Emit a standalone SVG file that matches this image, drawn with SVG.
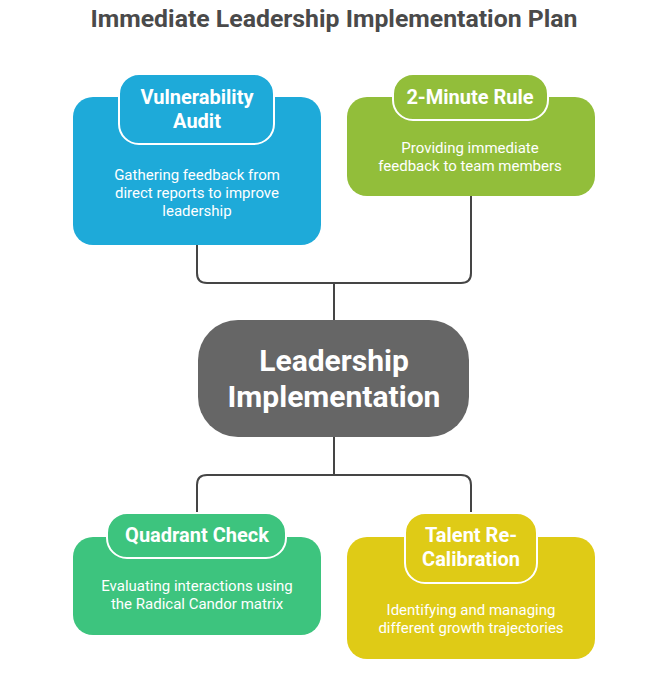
<svg xmlns="http://www.w3.org/2000/svg" width="668" height="697" viewBox="0 0 668 697">
<style>
.t{font-family:Roboto,"Liberation Sans",sans-serif;font-weight:700;fill:#ffffff;text-anchor:middle;dominant-baseline:central}
.d{font-family:Roboto,"Liberation Sans",sans-serif;font-weight:400;font-size:15px;fill:#ffffff;text-anchor:middle;dominant-baseline:central}
.pill{stroke:#ffffff;stroke-width:2}
.c{fill:none;stroke:#454545;stroke-width:2}
</style>
<rect width="668" height="697" fill="#ffffff"/>
<text x="334" y="18" font-family="Roboto,'Liberation Sans',sans-serif" font-weight="700" font-size="24.8" fill="#4a4a4a" text-anchor="middle" dominant-baseline="central">Immediate Leadership Implementation Plan</text>
<g id="connectors">
<path class="c" d="M197 245 V273 Q197 283 207 283 H461 Q471 283 471 273 V196"/>
<path class="c" d="M334 283 V320"/>
<path class="c" d="M334 437 V475"/>
<path class="c" d="M197 513 V485 Q197 475 207 475 H461 Q471 475 471 485 V513"/>
</g>
<g id="vulnerability-audit">
<rect x="73" y="97" width="248" height="148" rx="20" fill="#1eaad9"/>
<rect class="pill" x="119" y="74" width="155" height="70" rx="20" fill="#1eaad9"/>
<text class="t" font-size="20" x="197" y="97">Vulnerability</text>
<text class="t" font-size="20" x="197" y="121">Audit</text>
<text class="d" x="197" y="175">Gathering feedback from</text>
<text class="d" x="197" y="193">direct reports to improve</text>
<text class="d" x="197" y="211">leadership</text>
</g>
<g id="two-minute-rule">
<rect x="347" y="97" width="248" height="99" rx="20" fill="#92be3a"/>
<rect class="pill" x="393" y="74" width="155" height="46" rx="20" fill="#92be3a"/>
<text class="t" font-size="20" x="470" y="97">2-Minute Rule</text>
<text class="d" x="470" y="148">Providing immediate</text>
<text class="d" x="470" y="166">feedback to team members</text>
</g>
<g id="leadership-implementation">
<rect x="198" y="320" width="271" height="117" rx="40" fill="#666666"/>
<text class="t" font-size="30" x="334" y="360">Leadership</text>
<text class="t" font-size="30" x="334" y="396">Implementation</text>
</g>
<g id="quadrant-check">
<rect x="73" y="537" width="248" height="98" rx="20" fill="#3dc47e"/>
<rect class="pill" x="107" y="513" width="179" height="45" rx="20" fill="#3dc47e"/>
<text class="t" font-size="20" x="197" y="535">Quadrant Check</text>
<text class="d" x="197" y="586">Evaluating interactions using</text>
<text class="d" x="197" y="604">the Radical Candor matrix</text>
</g>
<g id="talent-recalibration">
<rect x="347" y="537" width="248" height="122" rx="20" fill="#dfcb16"/>
<rect class="pill" x="405" y="513" width="132" height="70" rx="20" fill="#dfcb16"/>
<text class="t" font-size="20" x="471" y="535">Talent Re-</text>
<text class="t" font-size="20" x="471" y="559">Calibration</text>
<text class="d" x="471" y="610">Identifying and managing</text>
<text class="d" x="471" y="628">different growth trajectories</text>
</g>
</svg>
